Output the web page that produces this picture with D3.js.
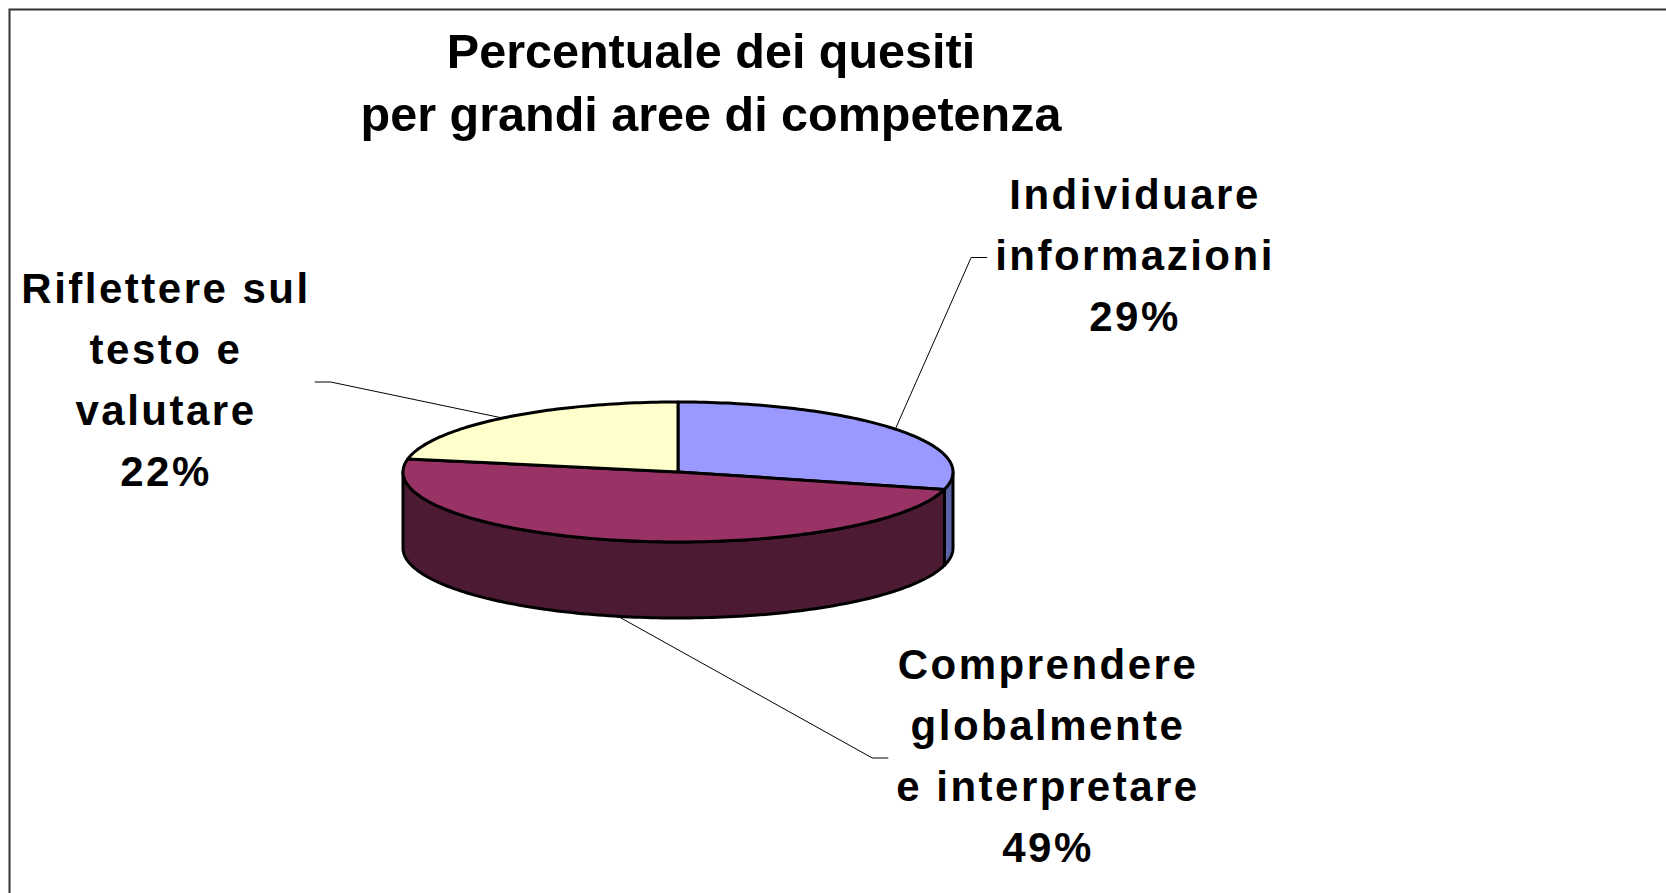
<!DOCTYPE html>
<html lang="it">
<head>
<meta charset="utf-8">
<title>Percentuale dei quesiti</title>
<script src="https://d3js.org/d3.v7.min.js"></script>
<style>
  body { margin: 0; background: #fff; }
  svg text { font-family: "Liberation Sans", Arial, sans-serif; font-weight: bold; fill: #000; }
</style>
</head>
<body>
<script>
// chart data
const categories = ["Individuare informazioni", "Comprendere globalmente e interpretare", "Riflettere sul testo e valutare"];
const values = [29, 49, 22];
const labelLines = [
  ["Individuare", "informazioni"],
  ["Comprendere", "globalmente", "e interpretare"],
  ["Riflettere sul", "testo e", "valutare"]
];
const titleLines = ["Percentuale dei quesiti", "per grandi aree di competenza"];
const topColors = ["#9999ff", "#993366", "#ffffcc"];
const sideColors = ["#5c63a8", "#4c1a33", "#80805f"];

// layout
const W = 1666, H = 893;
const cx = 678, cy = 472, rx = 275, ry = 70, depth = 76;
const labelAt = [[1135, 209], [1048, 679], [166, 303]]; // first baseline of each label block
const lineH = 61;

const svg = d3.select("body").append("svg")
  .attr("width", W).attr("height", H);

// chart area border (runs past right / bottom edge)
svg.append("rect")
  .attr("x", 9.5).attr("y", 9.5)
  .attr("width", W + 20).attr("height", H + 20)
  .attr("fill", "none").attr("stroke", "#333").attr("stroke-width", 2);

// title
svg.append("text")
  .attr("text-anchor", "middle")
  .style("font-size", "48.5px")
  .selectAll("tspan").data(titleLines).join("tspan")
  .attr("x", 711)
  .attr("y", (d, i) => 68 + i * 63)
  .text(d => d);

const topFill = d3.scaleOrdinal().domain(categories).range(topColors);
const sideFill = d3.scaleOrdinal().domain(categories).range(sideColors);

const arcs = d3.pie().sort(null).value(d => d)(values);
arcs.forEach((a, i) => a.cat = categories[i]);

function px(a) { return cx + rx * Math.sin(a); }
function py(a) { return cy - ry * Math.cos(a); }
function rim(a0, a1, dy) {
  const n = Math.max(2, Math.ceil(Math.abs(a1 - a0) / 0.02));
  return d3.range(n + 1).map(k => {
    const a = a0 + (a1 - a0) * k / n;
    return [px(a), py(a) + dy];
  });
}
const line = d3.line();

const pieG = svg.append("g")
  .attr("stroke", "#000").attr("stroke-width", 3)
  .attr("stroke-linejoin", "round");

// side walls, only the front half is visible
pieG.selectAll("path.side").data(arcs).join("path")
  .attr("class", "side")
  .attr("fill", d => sideFill(d.cat))
  .attr("d", d => {
    const s0 = Math.max(d.startAngle, Math.PI / 2);
    const s1 = Math.min(d.endAngle, Math.PI * 3 / 2);
    if (s0 >= s1) return null;
    const pts = rim(s0, s1, 0).concat(rim(s1, s0, depth));
    return line(pts) + "Z";
  });

// top faces
pieG.selectAll("path.top").data(arcs).join("path")
  .attr("class", "top")
  .attr("fill", d => topFill(d.cat))
  .attr("d", d => line([[cx, cy]].concat(rim(d.startAngle, d.endAngle, 0))) + "Z");

// labels
const fmt = d3.format(".0%");
const total = d3.sum(values);
arcs.forEach((d, i) => {
  const t = svg.append("text")
    .attr("text-anchor", "middle")
    .style("font-size", "42px")
    .style("letter-spacing", "2.5px");
  labelLines[i].concat([fmt(values[i] / total)]).forEach((s, k) => {
    t.append("tspan").attr("x", labelAt[i][0]).attr("y", labelAt[i][1] + k * lineH).text(s);
  });

  // leader line from slice rim to label block
  const mid = (d.startAngle + d.endAngle) / 2;
  const front = Math.cos(mid) < 0;
  const rxp = px(mid), ryp = py(mid) + (front ? depth : 0);
  const bb = t.node().getBBox();
  const ey = bb.y + bb.height / 2 + 2;
  let e1, e2;
  if (bb.x > rxp) { e1 = bb.x - 8; e2 = e1 - 16; }
  else { e1 = bb.x + bb.width + 4; e2 = e1 + 16; }
  svg.append("path")
    .attr("fill", "none").attr("stroke", "#000").attr("stroke-width", 1)
    .attr("d", line([[e1, ey], [e2, ey], [rxp, ryp]]));
});
</script>
</body>
</html>
